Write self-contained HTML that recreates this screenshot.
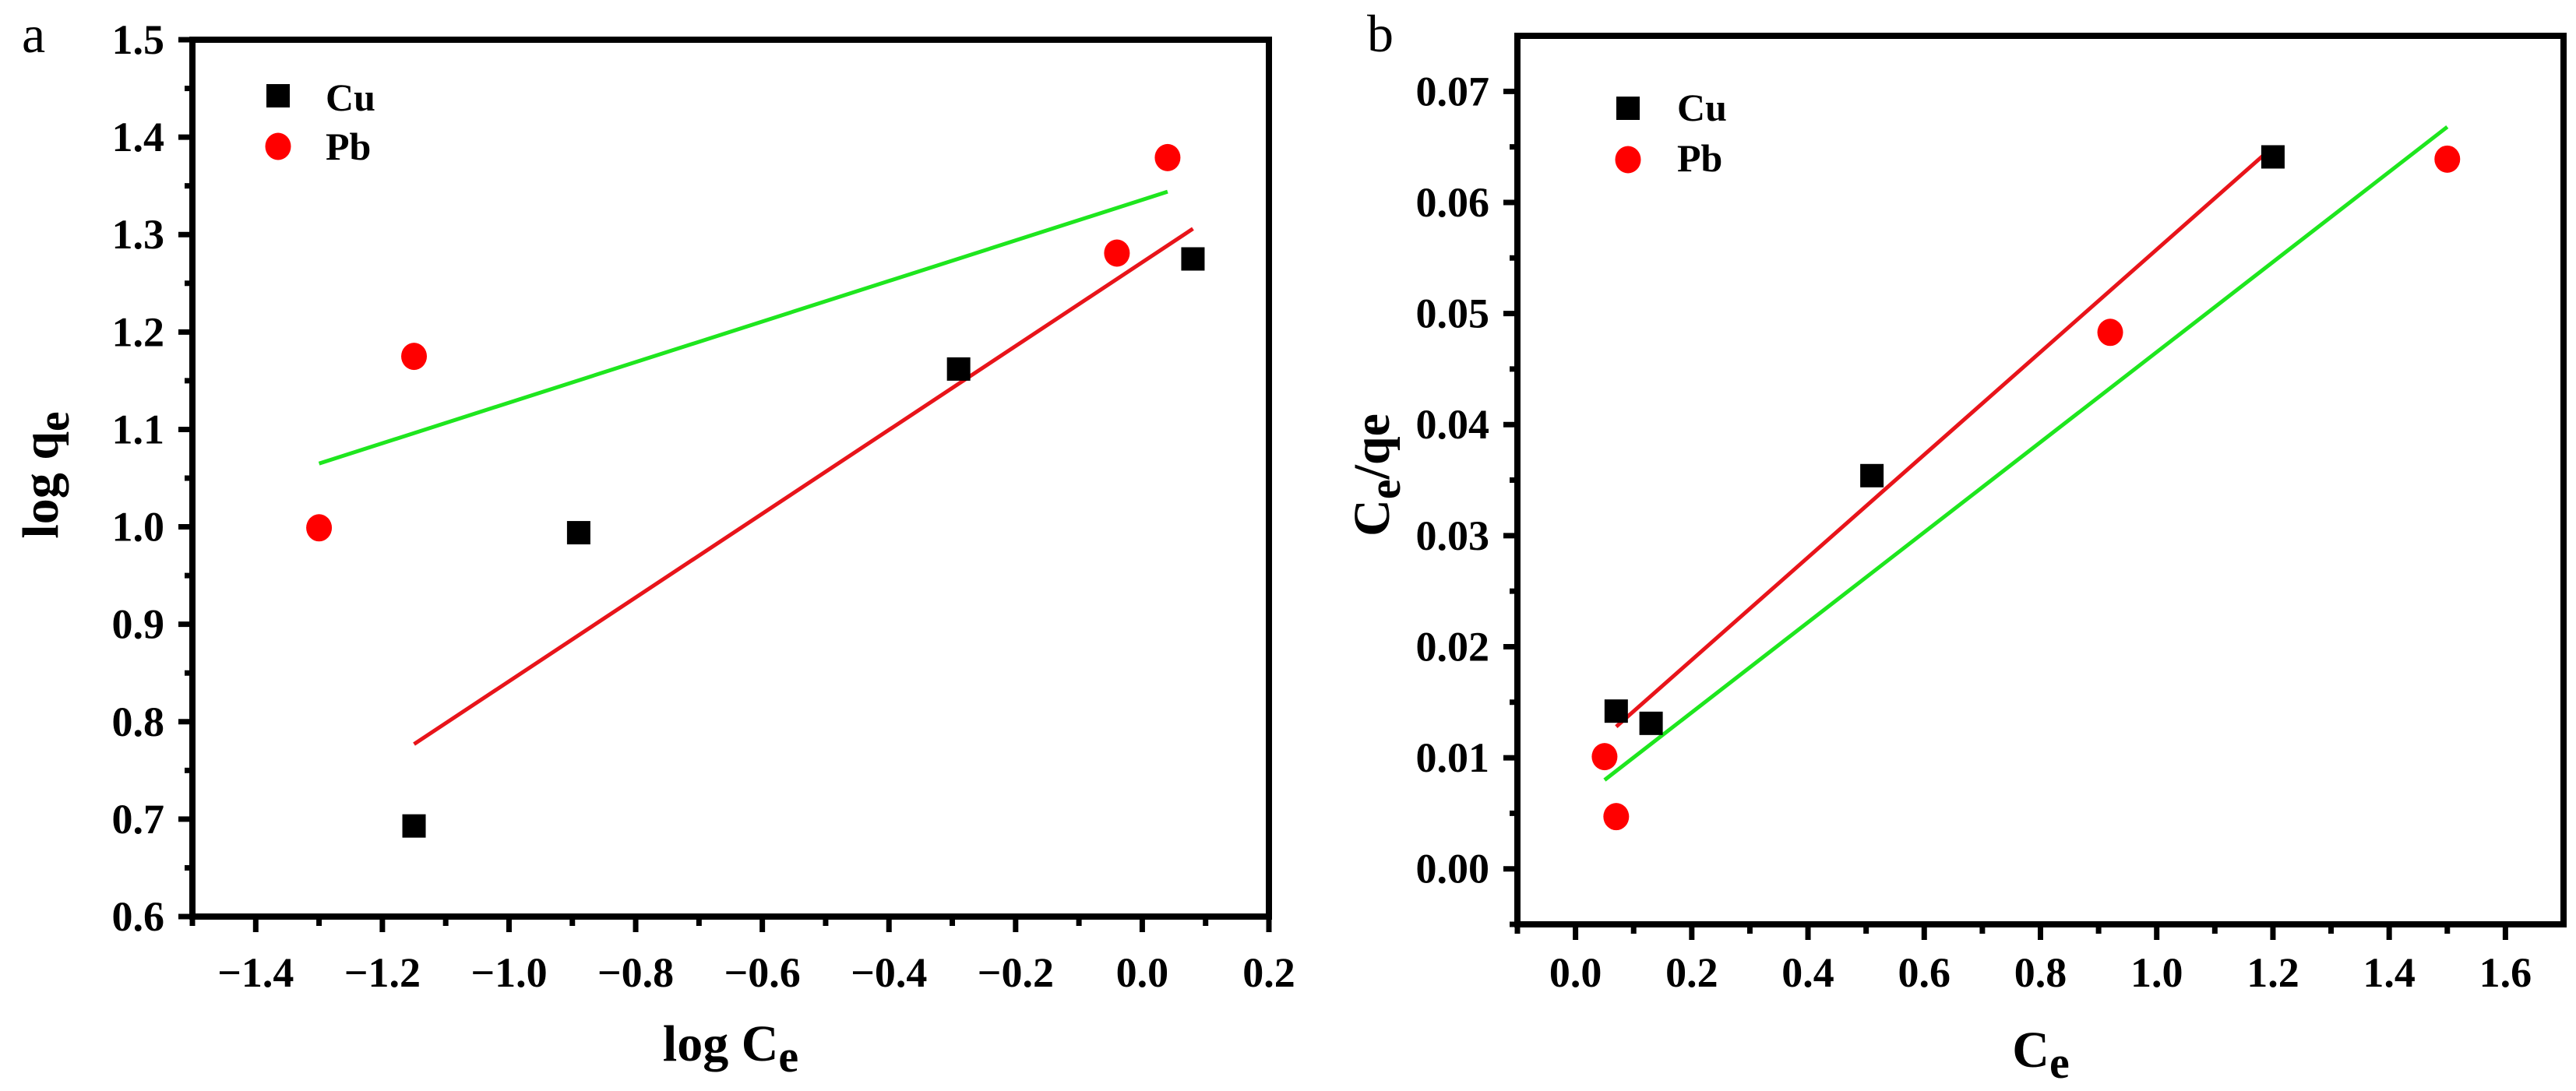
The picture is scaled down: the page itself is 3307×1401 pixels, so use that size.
<!DOCTYPE html>
<html><head><meta charset="utf-8"><style>
html,body{margin:0;padding:0;background:#fff;}
svg{display:block;font-family:"Liberation Serif","Times New Roman",serif;}
text{font-family:"Liberation Serif","Times New Roman",serif;}
</style></head><body>
<svg id="fig" width="3307" height="1401" viewBox="0 0 3307 1401" xmlns="http://www.w3.org/2000/svg" font-family="Liberation Serif, serif">
<rect width="3307" height="1401" fill="#fff"/>
</svg>
<script>
// ---- Panel a data ----
const aXTicks = [-1.4,-1.2,-1.0,-0.8,-0.6,-0.4,-0.2,0.0,0.2];
const aXTickLabels = ["\u22121.4","\u22121.2","\u22121.0","\u22120.8","\u22120.6","\u22120.4","\u22120.2","0.0","0.2"];
const aYTicks = [0.6,0.7,0.8,0.9,1.0,1.1,1.2,1.3,1.4,1.5];
const aYTickLabels = ["0.6","0.7","0.8","0.9","1.0","1.1","1.2","1.3","1.4","1.5"];
const aCuX = [-1.15,-0.89,-0.29,0.08];
const aCuY = [0.693,0.994,1.162,1.275];
const aPbX = [-1.30,-1.15,-0.04,0.04];
const aPbY = [0.999,1.175,1.281,1.379];
const aRedFitX = [-1.15,0.08];
const aRedFitY = [0.777,1.306];
const aGreenFitX = [-1.30,0.04];
const aGreenFitY = [1.065,1.344];
// ---- Panel b data ----
const bXTicks = [0.0,0.2,0.4,0.6,0.8,1.0,1.2,1.4,1.6];
const bXTickLabels = ["0.0","0.2","0.4","0.6","0.8","1.0","1.2","1.4","1.6"];
const bYTicks = [0.00,0.01,0.02,0.03,0.04,0.05,0.06,0.07];
const bYTickLabels = ["0.00","0.01","0.02","0.03","0.04","0.05","0.06","0.07"];
const bCuX = [0.07,0.13,0.51,1.20];
const bCuY = [0.0142,0.0131,0.0354,0.0641];
const bPbX = [0.05,0.07,0.92,1.50];
const bPbY = [0.0101,0.0047,0.0483,0.0639];
const bRedFitX = [0.07,1.20];
const bRedFitY = [0.0128,0.0650];
const bGreenFitX = [0.05,1.50];
const bGreenFitY = [0.0080,0.0668];

const NS = "http://www.w3.org/2000/svg";
const svg = document.getElementById('fig');
function el(tag, attrs, parent){
  const e = document.createElementNS(NS, tag);
  for (const k in attrs) e.setAttribute(k, attrs[k]);
  (parent||svg).appendChild(e);
  return e;
}

function panel(cfg){
  const g = el('g', {});
  
  
  const sx = v => cfg.x0 + (v - cfg.xmin) / (cfg.xmax - cfg.xmin) * (cfg.x1 - cfg.x0);
  const sy = v => cfg.y1 - (v - cfg.ymin) / (cfg.ymax - cfg.ymin) * (cfg.y1 - cfg.y0);
  const fits = [[cfg.redX,cfg.redY,'#e8141a','red-fit-line'],[cfg.greenX,cfg.greenY,'#1ee61e','green-fit-line']];
  fits.forEach(f=>{
    const l = el('line',{x1:sx(f[0][0]),y1:sy(f[1][0]),x2:sx(f[0][1]),y2:sy(f[1][1]),stroke:f[2],'stroke-width':5},g);
    
    
  });
  cfg.cuX.forEach((v,i)=>{
    const r = el('rect',{x:sx(v)-15,y:sy(cfg.cuY[i])-15,width:30,height:30,fill:'#000'},g);
    
    
  });
  cfg.pbX.forEach((v,i)=>{
    const c = el('ellipse',{cx:sx(v),cy:sy(cfg.pbY[i]),rx:16.5,ry:17.5,fill:'#ff0000'},g);
    
    
  });
  const fr = el('rect',{x:cfg.x0,y:cfg.y0,width:cfg.x1-cfg.x0,height:cfg.y1-cfg.y0,fill:'none',stroke:'#000','stroke-width':8},g);
  
  
  cfg.xTicks.forEach((v,i)=>{
    const x = sx(v);
    el('line',{x1:x,y1:cfg.y1,x2:x,y2:cfg.y1+20,stroke:'#000','stroke-width':7},g);
    const mv = v + cfg.xstep/2;
    if (mv < cfg.xmax) { const mx = sx(mv); el('line',{x1:mx,y1:cfg.y1,x2:mx,y2:cfg.y1+12,stroke:'#000','stroke-width':7},g); }
    const mv2 = v - cfg.xstep/2;
    if (i===0 && mv2 >= cfg.xmin) { const mx = sx(mv2); el('line',{x1:mx,y1:cfg.y1,x2:mx,y2:cfg.y1+12,stroke:'#000','stroke-width':7},g); }
    const t = el('text',{x:x,y:1267,'text-anchor':'middle','font-size':54,'font-weight':'bold','font-family':'Liberation Serif, serif'},g);
    t.textContent = cfg.xLabels[i];
    
    
  });
  cfg.yTicks.forEach((v,i)=>{
    const y = sy(v);
    el('line',{x1:cfg.x0-18,y1:y,x2:cfg.x0,y2:y,stroke:'#000','stroke-width':7},g);
    const mv = v + cfg.ystep/2;
    if (mv < cfg.ymax) { const my = sy(mv); el('line',{x1:cfg.x0-10,y1:my,x2:cfg.x0,y2:my,stroke:'#000','stroke-width':7},g); }
    const mv2 = v - cfg.ystep/2;
    if (i===0 && mv2 >= cfg.ymin-1e-9) { const my = sy(mv2); el('line',{x1:cfg.x0-10,y1:my,x2:cfg.x0,y2:my,stroke:'#000','stroke-width':7},g); }
    const t = el('text',{x:cfg.x0-36,y:y+18,'text-anchor':'end','font-size':54,'font-weight':'bold','font-family':'Liberation Serif, serif'},g);
    t.textContent = cfg.yLabels[i];
    
    
  });
  return g;
}

panel({name:'panel-a-chart',x0:247,x1:1629,y0:51,y1:1177,xmin:-1.5,xmax:0.2,ymin:0.6,ymax:1.5,xstep:0.2,ystep:0.1,
  xTicks:aXTicks,xLabels:aXTickLabels,yTicks:aYTicks,yLabels:aYTickLabels,
  cuX:aCuX,cuY:aCuY,pbX:aPbX,pbY:aPbY,redX:aRedFitX,redY:aRedFitY,greenX:aGreenFitX,greenY:aGreenFitY});
panel({name:'panel-b-chart',x0:1948,x1:3291,y0:46,y1:1187,xmin:-0.1,xmax:1.7,ymin:-0.005,ymax:0.075,xstep:0.2,ystep:0.01,
  xTicks:bXTicks,xLabels:bXTickLabels,yTicks:bYTicks,yLabels:bYTickLabels,
  cuX:bCuX,cuY:bCuY,pbX:bPbX,pbY:bPbY,redX:bRedFitX,redY:bRedFitY,greenX:bGreenFitX,greenY:bGreenFitY});
</script>
<script>
(function(){
const s = document.getElementById('fig');
s.insertAdjacentHTML('beforeend', `
<text x="28" y="67" font-size="68">a</text>
<text x="1755" y="66" font-size="68">b</text>
<g>
  <rect x="342" y="108" width="30" height="30" fill="#000"/>
  <text x="418" y="142" font-size="50" font-weight="bold">Cu</text>
  <ellipse cx="357" cy="188" rx="16.5" ry="17.5" fill="#ff0000"/>
  <text x="418" y="205" font-size="50" font-weight="bold">Pb</text>
</g>
<g>
  <rect x="2075" y="124" width="30" height="30" fill="#000"/>
  <text x="2153" y="155" font-size="50" font-weight="bold">Cu</text>
  <ellipse cx="2090" cy="205" rx="16.5" ry="17.5" fill="#ff0000"/>
  <text x="2153" y="220" font-size="50" font-weight="bold">Pb</text>
</g>
<text x="938" y="1362" text-anchor="middle" font-size="66" font-weight="bold">log C<tspan dy="14" font-size="58">e</tspan></text>
<text x="2620" y="1370" text-anchor="middle" font-size="66" font-weight="bold">C<tspan dy="14" font-size="58">e</tspan></text>
<text transform="translate(74,610) rotate(-90)" text-anchor="middle" font-size="66" font-weight="bold">log q<tspan dy="14" font-size="58">e</tspan></text>
<text transform="translate(1783,610) rotate(-90)" text-anchor="middle" font-size="66" font-weight="bold">C<tspan dy="14" font-size="58">e</tspan><tspan dy="-14">/qe</tspan></text>
`);
})();
</script>
</body></html>
